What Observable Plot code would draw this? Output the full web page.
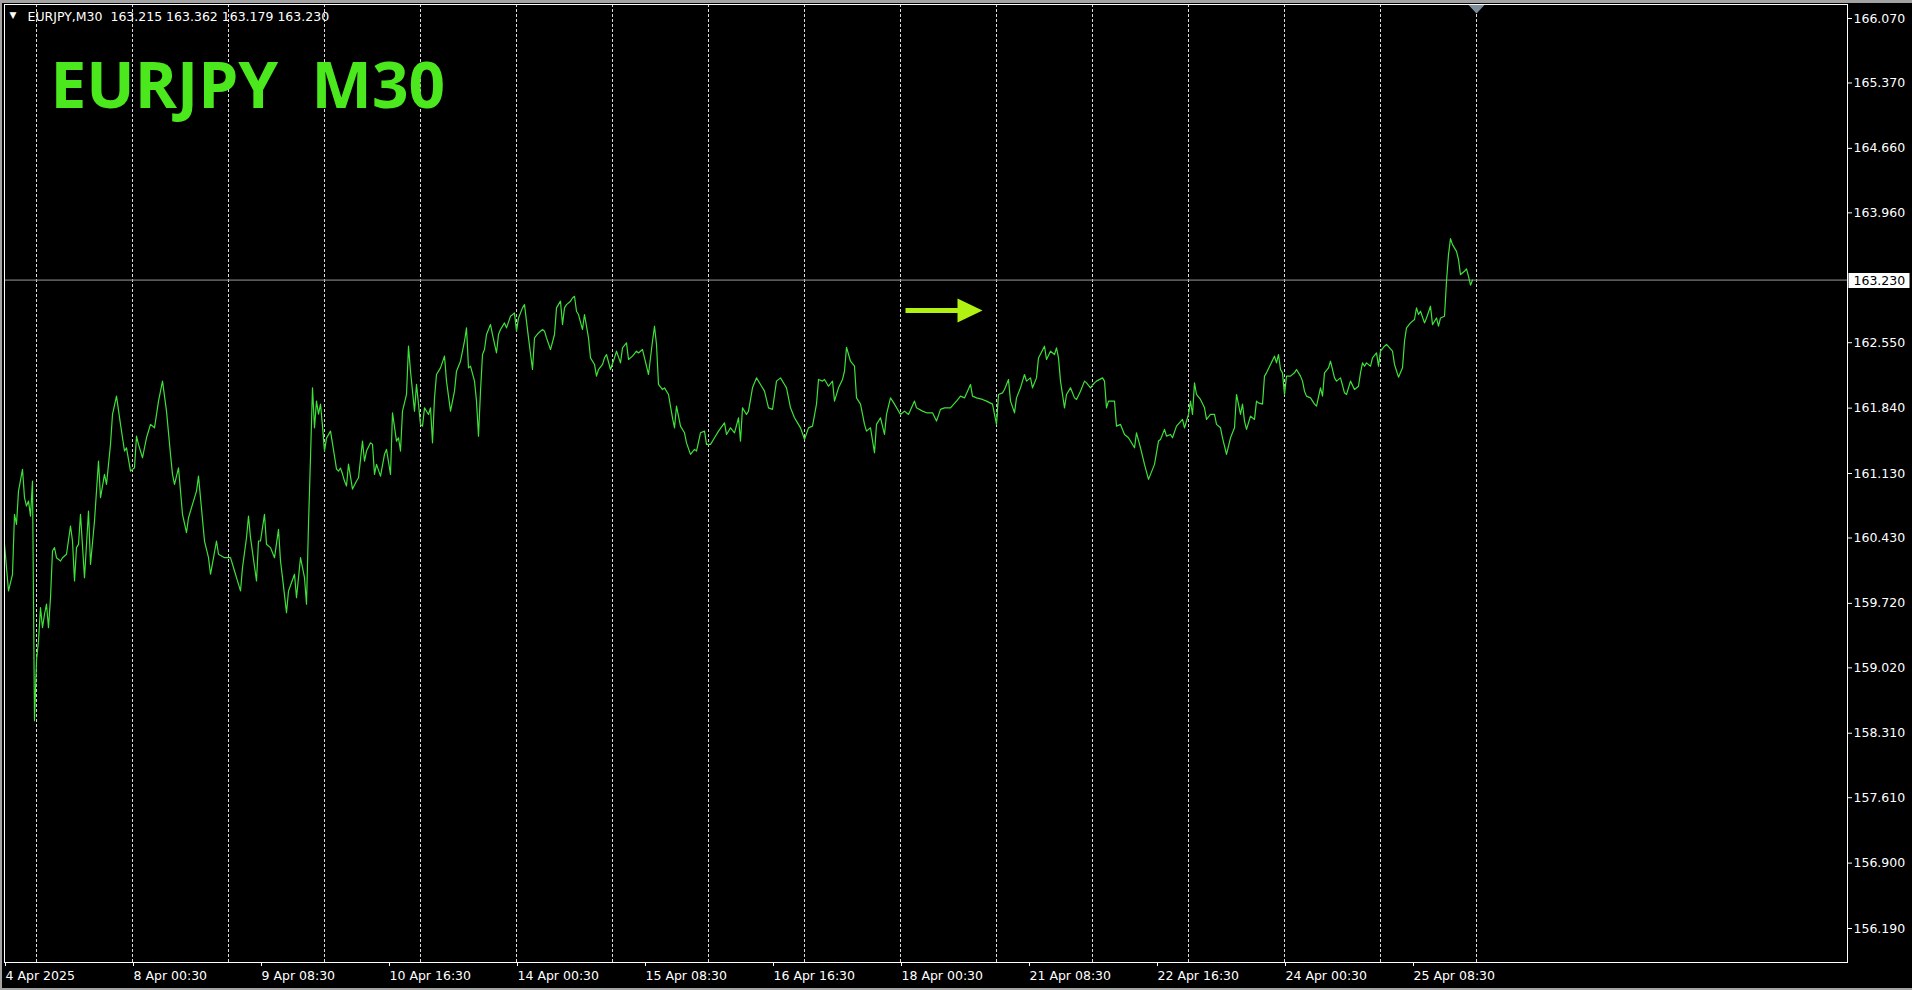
<!DOCTYPE html>
<html><head><meta charset="utf-8">
<script src="https://cdn.jsdelivr.net/npm/d3@7"></script>
<script src="https://cdn.jsdelivr.net/npm/@observablehq/plot@0.6"></script>
<style>
html,body{margin:0;padding:0;background:#000;}
#wrap{position:relative;width:1912px;height:990px;overflow:hidden;}
#wrap::after{content:"";position:absolute;left:0;top:0;right:0;bottom:0;border-top:3px solid #a3a3a3;border-left:2px solid #a3a3a3;border-bottom:2px solid #a3a3a3;pointer-events:none;}
svg{display:block;}
</style></head><body><div id="wrap"></div>
<script>
// bar index (30-minute bars from 4 Apr 2025 16:30) and close price
const barIdx = [0,2,4,5,6,7,9,10,11,12,13,14,15,16,17,18,19,20,21,22,23,24,25,26,28,29,31,33,34,35,36,37,38,40,42,43,45,47,48,50,51,53,54,56,58,60,61,63,65,66,67,69,71,73,75,77,79,81,83,84,85,87,89,91,92,94,96,97,98,100,102,103,106,107,110,113,115,116,118,119,121,122,123,126,127,128,130,131,133,135,137,138,139,141,142,145,146,148,150,151,152,153,154,155,156,157,158,159,160,161,163,165,166,167,168,169,170,171,172,174,176,177,179,180,181,183,184,185,186,188,190,191,193,194,196,197,198,199,201,202,203,205,206,207,208,209,210,212,213,214,215,216,218,220,221,223,225,226,228,230,231,232,233,235,236,237,238,239,240,241,243,244,246,247,248,250,251,253,255,256,257,259,260,262,264,265,267,269,270,271,273,275,276,278,279,280,281,283,284,285,286,287,289,290,292,293,295,296,297,299,300,301,303,305,306,308,309,311,312,314,316,317,319,320,322,324,325,326,327,329,330,332,334,335,336,338,340,341,343,345,346,348,350,351,353,355,357,360,361,363,365,367,368,369,371,372,374,376,378,380,382,384,386,388,390,391,393,395,396,398,400,402,404,406,407,409,410,412,414,415,417,419,420,421,423,425,426,428,430,431,433,435,436,438,440,441,443,445,448,450,452,455,456,459,461,464,466,468,470,473,476,478,480,483,484,486,489,491,494,495,496,497,499,500,502,503,505,506,508,510,511,513,514,516,517,520,521,523,525,526,527,528,530,531,533,535,536,538,540,541,543,545,546,549,550,551,552,555,556,558,560,562,565,566,568,570,572,575,577,578,580,581,583,584,586,589,590,592,593,594,595,596,598,600,601,603,605,606,608,609,611,613,615,616,618,619,620,621,623,625,626,627,629,630,631,633,635,636,637,638,639,640,641,643,645,646,648,649,650,651,653,655,656,658,659,660,662,663,665,666,668,670,671,673,675,677,678,679,680,681,683,684,686,687,688,690,691,694,695,697,699,700,701,703,705,706,707,708,710,711,713,714,716,717,718,720,721,722,723,724,726,727,728,730,731,732,733,734];
const closes = [160.361,159.855,160.036,160.687,160.578,160.939,161.175,160.867,160.777,160.831,160.668,161.048,158.445,159.100,159.313,159.674,159.457,159.602,159.711,159.457,159.782,160.289,160.325,160.216,160.180,160.216,160.253,160.560,160.397,159.963,160.325,160.361,160.687,159.999,160.723,160.144,160.614,161.265,160.867,161.121,161.012,161.446,161.771,161.970,161.663,161.374,161.409,161.156,161.192,161.536,161.446,161.301,161.518,161.663,161.626,161.916,162.133,161.807,161.338,161.121,161.012,161.192,160.687,160.487,160.650,160.795,160.939,161.102,160.867,160.397,160.216,160.036,160.397,160.253,160.216,160.216,160.072,159.999,159.855,160.108,160.433,160.668,160.433,159.963,160.397,160.397,160.687,160.361,160.325,160.216,160.524,160.180,159.999,159.620,159.855,160.036,159.782,160.216,159.999,159.711,160.578,161.301,162.060,161.626,161.916,161.775,161.883,161.644,161.374,161.514,161.590,161.319,161.178,161.156,161.189,161.124,161.048,160.994,161.232,160.961,161.048,161.084,161.482,161.265,161.374,161.463,161.446,161.121,161.229,161.102,161.338,161.392,161.121,161.789,161.482,161.518,161.374,161.807,161.988,162.512,162.241,161.807,162.097,161.883,161.663,161.644,161.843,161.771,161.843,161.463,161.951,162.205,162.277,162.404,162.133,161.807,162.024,162.241,162.349,162.566,162.711,162.277,162.295,162.133,161.916,161.536,162.024,162.422,162.476,162.639,162.747,162.639,162.439,162.639,162.693,162.765,162.711,162.838,162.873,162.675,162.819,162.928,162.964,162.602,162.259,162.602,162.656,162.693,162.675,162.602,162.476,162.639,162.928,163.001,162.747,162.928,162.964,163.001,163.036,163.054,162.892,162.856,162.693,162.856,162.602,162.385,162.314,162.187,162.259,162.314,162.385,162.422,162.259,162.385,162.458,162.331,162.494,162.548,162.368,162.404,162.458,162.439,162.476,162.385,162.205,162.566,162.729,162.531,162.097,162.042,162.060,161.988,161.735,161.626,161.861,161.644,161.572,161.463,161.338,161.392,161.374,161.572,161.590,161.446,161.446,161.518,161.590,161.680,161.554,161.626,161.572,161.735,161.482,161.843,161.771,161.807,162.060,162.168,162.097,162.024,161.843,161.826,162.133,162.168,162.097,162.060,161.843,161.735,161.699,161.626,161.500,161.626,161.644,161.883,162.151,162.133,162.151,162.078,162.133,161.916,162.060,162.151,162.241,162.501,162.349,162.295,161.951,161.883,161.663,161.590,161.626,161.355,161.663,161.735,161.554,161.771,161.951,161.883,161.771,161.807,161.771,161.916,161.843,161.807,161.789,161.789,161.699,161.826,161.843,161.843,161.916,161.970,161.951,162.097,161.970,161.951,161.934,161.916,161.883,161.771,161.663,161.988,162.006,162.042,162.151,161.916,161.789,161.951,162.060,162.205,162.133,162.168,162.060,162.168,162.385,162.512,162.368,162.458,162.422,162.494,162.385,162.133,161.843,161.988,162.060,161.951,161.934,162.024,162.133,162.114,162.060,162.114,162.133,162.168,162.133,161.843,161.916,161.916,161.644,161.663,161.554,161.518,161.409,161.572,161.409,161.229,161.066,161.229,161.482,161.500,161.609,161.536,161.554,161.518,161.644,161.717,161.626,161.771,161.916,161.771,162.114,161.988,161.934,161.843,161.717,161.771,161.771,161.663,161.626,161.518,161.338,161.518,161.626,161.988,161.771,161.883,161.699,161.609,161.753,161.717,161.916,161.897,161.883,162.187,162.223,162.314,162.404,162.331,162.422,162.259,162.223,161.988,162.187,162.187,162.223,162.259,162.187,162.133,162.024,161.970,161.951,161.883,161.861,162.060,161.970,162.223,162.277,162.349,162.168,162.133,162.168,162.006,161.988,162.133,162.042,162.078,162.223,162.331,162.295,162.331,162.295,162.385,162.439,162.295,162.458,162.512,162.531,162.458,162.314,162.176,162.277,162.566,162.711,162.765,162.802,162.928,162.856,162.892,162.765,162.819,162.946,162.747,162.819,162.729,162.819,162.838,163.217,163.507,163.680,163.615,163.542,163.453,163.290,163.326,163.351,163.271,163.174,163.230];

const xLabelIdx = [0,64,128,192,256,320,384,448,512,576,640,704];
const xLabels = ["4 Apr 2025","8 Apr 00:30","9 Apr 08:30","10 Apr 16:30","14 Apr 00:30","15 Apr 08:30","16 Apr 16:30","18 Apr 00:30","21 Apr 08:30","22 Apr 16:30","24 Apr 00:30","25 Apr 08:30"];
const gridIdx = [16,64,112,160,208,256,304,352,400,448,496,544,592,640,688,736];
const yTicks = [166.070,165.370,164.660,163.960,162.550,161.840,161.130,160.430,159.720,159.020,158.310,157.610,156.900,156.190];
const lastPrice = 163.230;
const headerText = "EURJPY,M30\u00a0\u00a0163.215 163.362 163.179 163.230";
const titleText = "EURJPY\u00a0\u00a0M30";
const arrowFrom = 450.5, arrowTo = 489, arrowPrice = 162.90;
const shiftIdx = 736;
const xDomain = [0, 921.5];
const yDomain = [155.821, 166.222];

const lineColor = "#3fe03a";
const titleColor = "#4ce81e";
const arrowColor = "#b2f212";

const data = barIdx.map((i, k) => ({i, p: closes[k]}));
const labelMap = new Map(xLabelIdx.map((d, k) => [d, xLabels[k]]));

function overlay(index, scales, values, dims) {
  const g = d3.create("svg:g").attr("transform", "translate(0.5,0.5)");
  const x = scales.x, y = scales.y;
  const ay = Math.round(y(arrowPrice)), x0 = x(arrowFrom), x1 = x(arrowTo);
  g.append("line").attr("x1", x0).attr("x2", x1 - 24).attr("y1", ay).attr("y2", ay)
    .attr("stroke", arrowColor).attr("stroke-width", 5);
  g.append("path").attr("d", `M${x1},${ay}L${x1 - 25},${ay - 12}L${x1 - 25},${ay + 12}Z`).attr("fill", arrowColor);
  const sx = x(shiftIdx), top = dims.marginTop;
  g.append("path").attr("d", `M${sx - 8.5},${top}L${sx + 8.5},${top}L${sx},${top + 9}Z`).attr("fill", "#7d8d9b");
  const right = x(xDomain[1]);
  const py = Math.round(y(lastPrice));
  g.append("rect").attr("x", right + 1).attr("y", py - 7.5).attr("width", 61).attr("height", 15).attr("fill", "#fff");
  g.append("text").attr("x", right + 6).attr("y", py).attr("dy", "0.32em").attr("fill", "#000")
    .attr("text-anchor", "start").attr("font-size", 12.5).attr("font-family", "DejaVu Sans").text(lastPrice.toFixed(3));
  return g.node();
}

const chart = Plot.plot({
  width: 1912,
  height: 990,
  marginLeft: 4,
  marginTop: 4,
  marginRight: 65,
  marginBottom: 28,
  style: {background: "#000", color: "#fff", fontFamily: "DejaVu Sans", fontSize: "12.5px"},
  x: {domain: xDomain},
  y: {domain: yDomain},
  marks: [
    Plot.ruleX(gridIdx, {stroke: "#dcdcdc", strokeDasharray: "3,2"}),
    Plot.ruleY([lastPrice], {stroke: "#9a9a9a"}),
    Plot.line(data, {x: "i", y: "p", stroke: lineColor, strokeWidth: 1.2}),
    overlay,
    Plot.frame({stroke: "#fff"}),
    Plot.axisY(yTicks, {anchor: "right", tickSize: 4, tickPadding: 2, tickFormat: d => d.toFixed(3), fill: "#fff", stroke: "#fff", fontSize: 12.5, label: null}),
    Plot.axisX(xLabelIdx, {anchor: "bottom", tickSize: 4, tickPadding: 5, tickFormat: d => labelMap.get(d), textAnchor: "start", dx: 1, fill: "#fff", stroke: "#fff", fontSize: 12.5, label: null}),
    Plot.text(["\u25BC"], {frameAnchor: "top-left", lineAnchor: "middle", dx: 5, dy: 11, fontSize: 9, fill: "#fff", textAnchor: "start"}),
    Plot.text([headerText], {frameAnchor: "top-left", lineAnchor: "middle", dx: 23, dy: 12, fontSize: 12.5, fill: "#fff", textAnchor: "start"}),
    Plot.text([titleText], {frameAnchor: "top-left", lineAnchor: "middle", dx: 46, dy: 83.5, fontSize: 64, fontWeight: "bold", fontFamily: "Open Sans", fill: titleColor, textAnchor: "start"})
  ]
});
document.getElementById("wrap").appendChild(chart);
</script>
</body></html>
